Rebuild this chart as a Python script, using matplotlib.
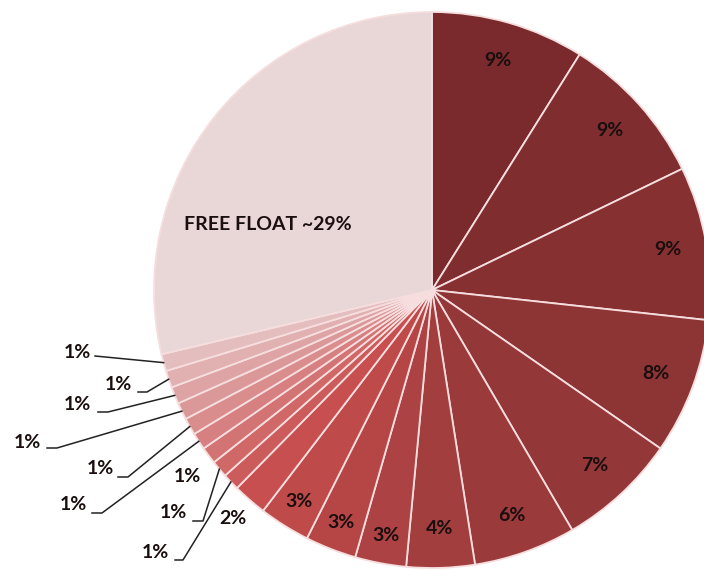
import numpy as np
import matplotlib
matplotlib.use("Agg")
import matplotlib.pyplot as plt
from matplotlib.colors import LinearSegmentedColormap

# shareholding, clockwise from 12 o'clock
shares = [9, 9, 9, 8, 7, 6, 4, 3, 3, 3, 2, 1, 1, 1, 1, 1, 1, 1, 1, 1, 29]
labels = ['9%', '9%', '9%', '8%', '7%', '6%', '4%', '3%', '3%', '3%', '2%',
          '1%', '1%', '1%', '1%', '1%', '1%', '1%', '1%', '1%', 'FREE FLOAT ~29%']

plt.rcParams['font.family'] = ['Lato', 'DejaVu Sans']

# pie centre / radius in pixels of the 704x570 picture
CX, CY, R = 432, 290, 278


def px(x, y):
    return (x - CX) / R, (CY - y) / R


cmap = LinearSegmentedColormap.from_list(
    'reds', [(0.0, '#7a2a2d'), (0.25, '#9a3a3b'), (0.5, '#c84e4e'),
             (0.6, '#d06868'), (0.95, '#e4bcbd'), (1.0, '#e9d6d7')])
colors = cmap(np.linspace(0, 1, len(shares)))

fig = plt.figure(figsize=(7.04, 5.70), dpi=100)
ax = fig.add_axes([(CX - R) / 704, (570 - CY - R) / 570, 2 * R / 704, 2 * R / 570])
wedges, _ = ax.pie(shares, colors=colors, startangle=90, counterclock=False,
                   wedgeprops=dict(edgecolor='#f7dede', linewidth=1.3))
ax.set_xlim(-1, 1)
ax.set_ylim(-1, 1)
ax.axis('off')

txt = dict(fontsize=14, fontweight='bold', color='#1a0e0e', ha='center', va='center')

# labels inside the large slices
for i in range(10):
    w = wedges[i]
    a = np.deg2rad((w.theta1 + w.theta2) / 2)
    r = 0.86 if shares[i] > 3 else 0.9
    ax.text(r * np.cos(a), r * np.sin(a), labels[i], **txt)

# 2% just outside
w = wedges[10]
a = np.deg2rad((w.theta1 + w.theta2) / 2)
ax.text(1.09 * np.cos(a), 1.09 * np.sin(a), labels[10], clip_on=False, **txt)

# 1% labels with leader lines (text pos, elbow start, elbow end) in pixels
small_pos = [((155, 553), (175, 560), (183, 560)),
             ((173, 513), (193, 521), (203, 521)),
             ((187, 477), None, None),
             ((73, 505), (92, 513), (102, 513)),
             ((100, 468), (118, 477), (128, 477)),
             ((27, 442), (47, 448), (57, 448)),
             ((77, 405), (98, 412), (108, 412)),
             ((118, 385), (138, 392), (147, 392)),
             ((77, 352), (95, 356), (95, 356))]
for k, (tp, e0, e1) in enumerate(small_pos):
    i = 11 + k
    w = wedges[i]
    a = np.deg2rad((w.theta1 + w.theta2) / 2)
    tx, ty = px(*tp)
    ax.text(tx, ty, labels[i], clip_on=False, **txt)
    if e0 is not None:
        x0, y0 = px(*e0)
        x1, y1 = px(*e1)
        ax.plot([x0, x1, np.cos(a)], [y0, y1, np.sin(a)], color='#222222',
                lw=1.1, clip_on=False)

# free float
fx, fy = px(268, 224)
ax.text(fx, fy, labels[-1], **txt)

fig.savefig('out.png', dpi=100)
